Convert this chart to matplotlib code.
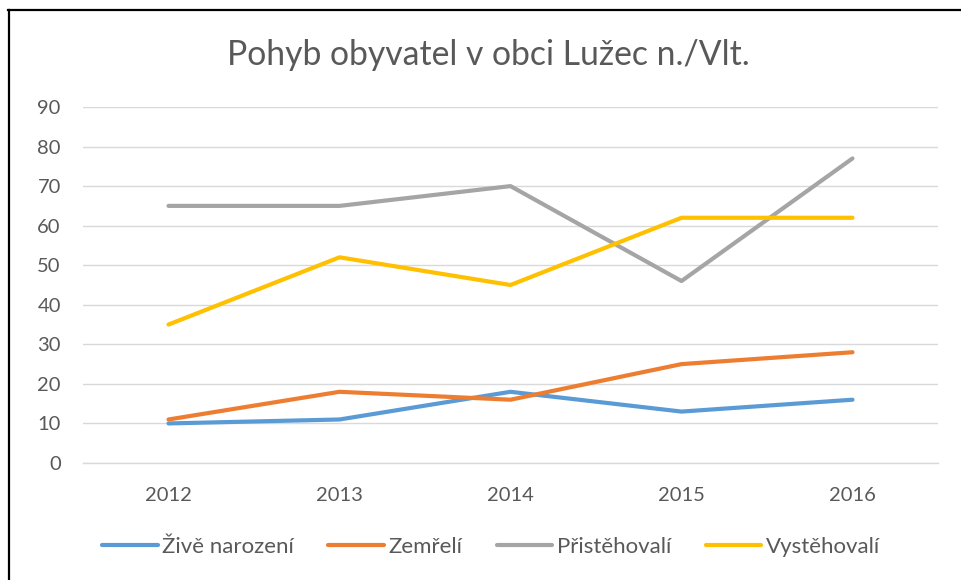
"""
Line chart of population movement in Lužec n./Vlt., 2012-2016.
"""
import matplotlib
matplotlib.use("Agg")
import matplotlib.pyplot as plt
from matplotlib.lines import Line2D

# Data
years = ["2012", "2013", "2014", "2015", "2016"]
zive_narozeni = [10, 11, 18, 13, 16]
zemreli = [11, 18, 16, 25, 28]
pristehovali = [65, 65, 70, 46, 77]
vystehovali = [35, 52, 45, 62, 62]

series_names = ["Živě narození", "Zemřelí", "Přistěhovalí", "Vystěhovalí"]
series_colors = ["#5B9BD5", "#ED7D31", "#A5A5A5", "#FFC000"]
y_ticks = list(range(0, 100, 10))

text_color = "#595959"
grid_color = "#D9D9D9"
font = ["Lato", "DejaVu Sans"]

plt.rcParams["font.family"] = font

fig = plt.figure(figsize=(9.62, 5.8), dpi=100)
ax = fig.add_axes([83 / 962, 1 - 463 / 580, (938 - 83) / 962, (463 - 107) / 580])

x = range(len(years))
for name, values, color in zip(series_names,
                               [zive_narozeni, zemreli, pristehovali, vystehovali],
                               series_colors):
    ax.plot(x, values, color=color, lw=3.0, label=name,
            solid_capstyle="round", solid_joinstyle="round", zorder=3)

ax.set_xlim(-0.5, len(years) - 0.5)
ax.set_ylim(0, 90)
ax.set_xticks(list(x))
ax.set_xticklabels(years)
ax.set_yticks(y_ticks)

ax.grid(axis="y", color=grid_color, lw=1.0, zorder=0)
for side in ["top", "right", "left"]:
    ax.spines[side].set_visible(False)
ax.spines["bottom"].set_color(grid_color)
ax.spines["bottom"].set_linewidth(1.0)
ax.tick_params(axis="both", length=0, labelsize=14.5, colors=text_color)
ax.tick_params(axis="y", pad=16)
ax.tick_params(axis="x", pad=17)

fig.text(488 / 962, 1 - 55 / 580, "Pohyb obyvatel v obci Lužec n./Vlt.",
         ha="center", va="center", fontsize=24.3, color=text_color)

leg = fig.legend(loc="center", bbox_to_anchor=(491 / 962, 1 - 547 / 580),
                 ncol=4, frameon=False, fontsize=16, handlelength=2.5,
                 handletextpad=0.2, columnspacing=1.55)
for t in leg.get_texts():
    t.set_color(text_color)

# Black frame on top and left edges, as in the reference screenshot
fig.add_artist(Line2D([8 / 962, 1], [1 - 9.5 / 580, 1 - 9.5 / 580],
                      transform=fig.transFigure, color="black", lw=1.6))
fig.add_artist(Line2D([8.5 / 962, 8.5 / 962], [0, 1 - 9.5 / 580],
                      transform=fig.transFigure, color="black", lw=1.6))

fig.savefig("out.png", dpi=100, facecolor="white")
